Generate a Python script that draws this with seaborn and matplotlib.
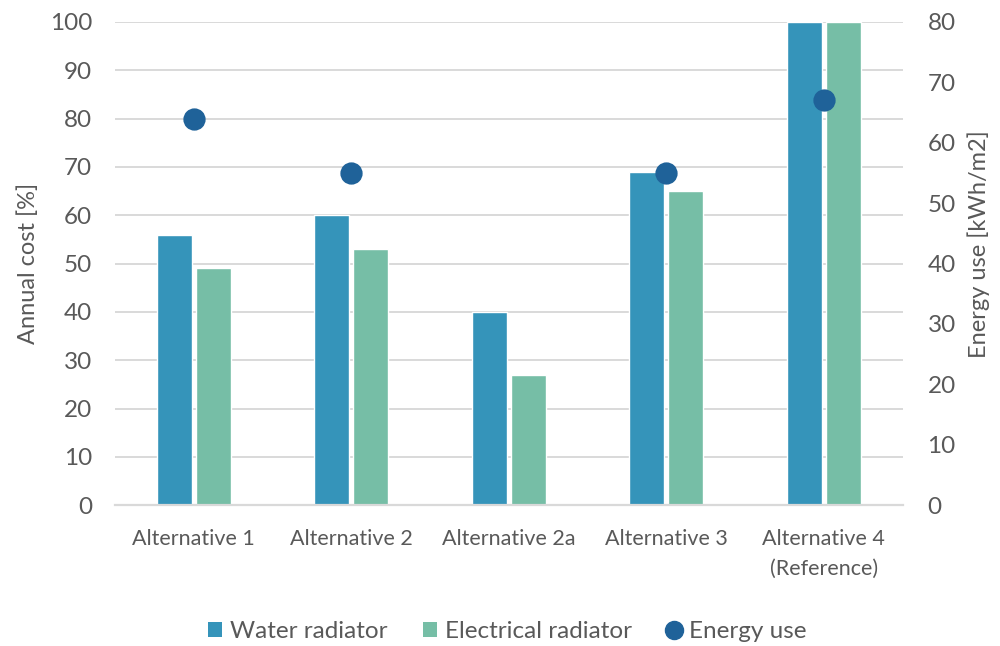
import matplotlib
matplotlib.use("Agg")
import matplotlib.pyplot as plt
from matplotlib import font_manager
from matplotlib.patches import Patch
from matplotlib.lines import Line2D
import seaborn as sns
import pandas as pd

# Data
alternatives = ["Alternative 1", "Alternative 2", "Alternative 2a",
                "Alternative 3", "Alternative 4\n(Reference)"]
water_radiator = [56, 60, 40, 69, 100]        # annual cost [%]
electrical_radiator = [49, 53, 27, 65, 100]   # annual cost [%]
energy_use = [64, 55, None, 55, 67]           # kWh/m2
cost_ticks = list(range(0, 101, 10))
energy_ticks = list(range(0, 81, 10))

WATER = "#3594BA"
ELEC = "#76BEA6"
DOT = "#1F6299"
TEXT = "#595959"
GRID = "#D9D9D9"

sns.set_theme(style="white")
available = {f.name for f in font_manager.fontManager.ttflist}
family = next((f for f in ["Liberation Sans Narrow", "DejaVu Sans Condensed",
                           "Lato", "DejaVu Sans"] if f in available), "DejaVu Sans")
plt.rcParams["font.family"] = [family, "DejaVu Sans"]
plt.rcParams["text.color"] = TEXT

cost_df = pd.DataFrame({
    "alternative": alternatives * 2,
    "cost": water_radiator + electrical_radiator,
    "system": ["Water radiator"] * len(alternatives)
              + ["Electrical radiator"] * len(alternatives),
})
energy_df = pd.DataFrame({"alternative": alternatives, "energy": energy_use}).dropna()

fig = plt.figure(figsize=(10, 6.46), dpi=100)
ax = fig.add_axes([0.115, 0.218, 0.7875, 0.748])

sns.barplot(data=cost_df, x="alternative", y="cost", hue="system",
            order=alternatives,
            hue_order=["Water radiator", "Electrical radiator"],
            palette=[WATER, ELEC], width=0.5, gap=0.11,
            saturation=1, legend=False, ax=ax, zorder=2)
ax.set_xlim(-0.5, len(alternatives) - 0.5)
ax.set_ylim(0, 100)
ax.set_yticks(cost_ticks)
ax.yaxis.grid(True, color=GRID, linewidth=1.4, zorder=0)
ax.set_axisbelow(True)
for s in ["top", "right", "left"]:
    ax.spines[s].set_visible(False)
ax.spines["bottom"].set_color(GRID)
ax.spines["bottom"].set_linewidth(1.6)
ax.tick_params(axis="both", length=0, colors=TEXT)
ax.tick_params(axis="y", pad=16.5, labelsize=17.5)
ax.tick_params(axis="x", pad=17, labelsize=15.5)
for lbl in ax.get_xticklabels():
    lbl.set_linespacing(1.6)
    lbl.set_verticalalignment("top")
ax.set_xlabel("")
ax.set_ylabel("Annual cost [%]", fontsize=17, color=TEXT)
ax.yaxis.set_label_coords(-0.097, 0.5)

ax2 = ax.twinx()
sns.pointplot(data=energy_df, x="alternative", y="energy", order=alternatives,
              color=DOT, linestyle="none", markers="o", markersize=14,
              errorbar=None, ax=ax2)
ax2.set_ylim(0, 80)
ax2.set_yticks(energy_ticks)
ax2.set_xlim(-0.5, len(alternatives) - 0.5)
for s in ["top", "right", "left", "bottom"]:
    ax2.spines[s].set_visible(False)
ax2.tick_params(axis="y", length=0, colors=TEXT, labelsize=17.5, pad=18)
ax2.set_ylabel("Energy use [kWh/m2]", fontsize=17, color=TEXT)
ax2.yaxis.set_label_coords(1.083, 0.54)
ax2.grid(False)

handles = [
    Patch(facecolor=WATER, edgecolor="none", label="Water radiator"),
    Patch(facecolor=ELEC, edgecolor="none", label="Electrical radiator"),
    Line2D([], [], linestyle="none", marker="o", markersize=13,
           color=DOT, label="Energy use"),
]
fig.legend(handles=handles, loc="center", bbox_to_anchor=(0.5075, 0.022),
           ncol=3, frameon=False, fontsize=17.5, handlelength=0.56,
           handleheight=0.56, handletextpad=0.35, columnspacing=1.45,
           labelcolor=TEXT)

fig.savefig("out.png", dpi=100)
